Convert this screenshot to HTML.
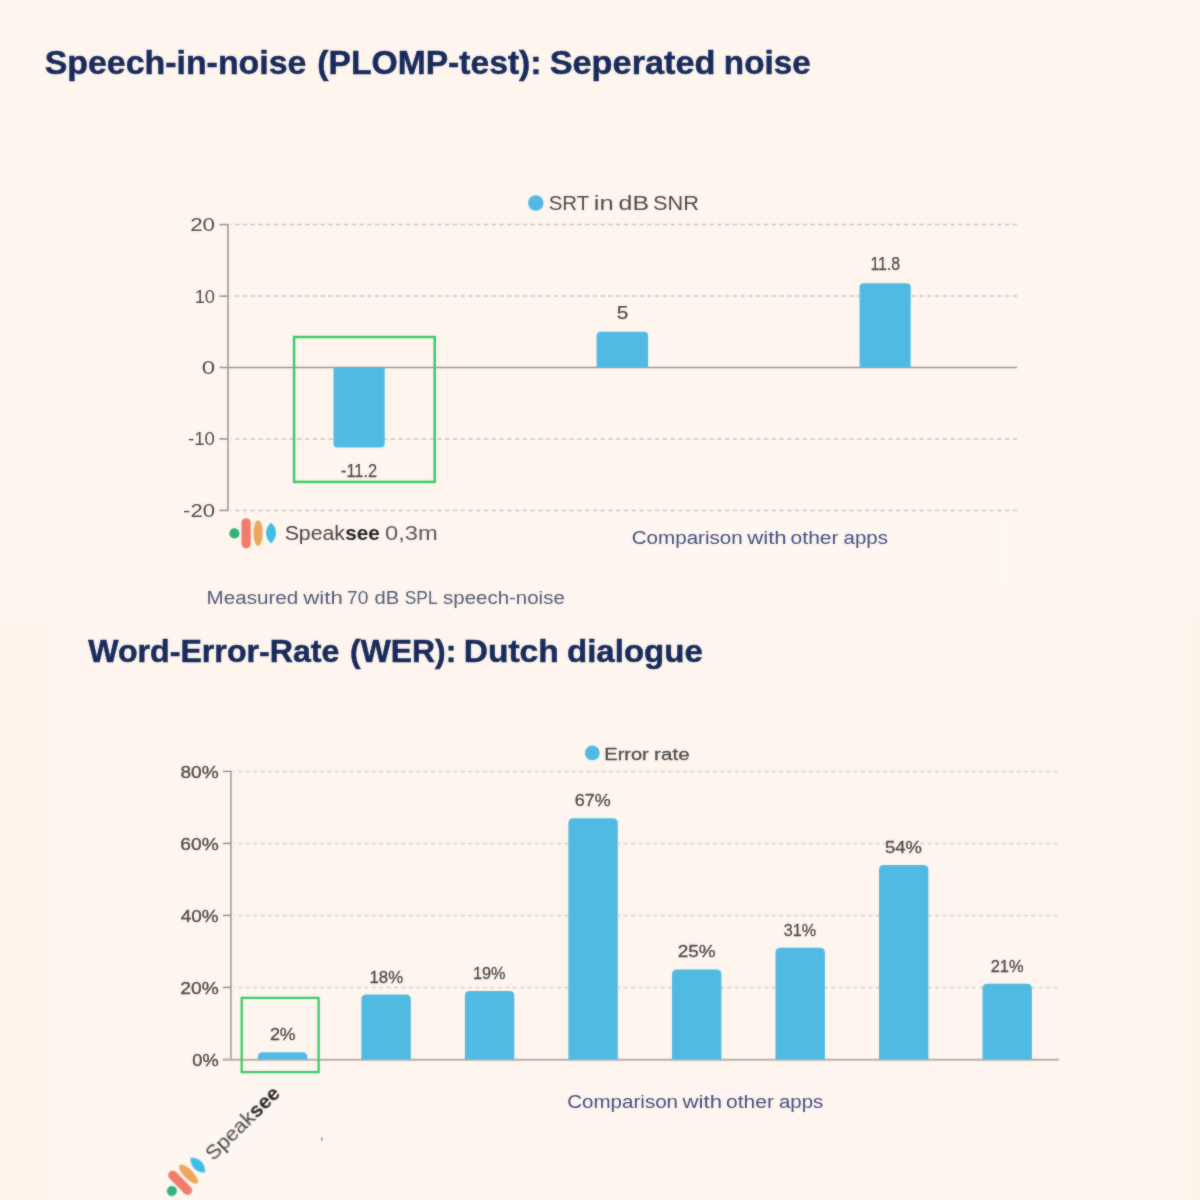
<!DOCTYPE html>
<html lang="en"><head><meta charset="utf-8"><title>Speaksee benchmark charts</title>
<style>
html,body{margin:0;padding:0;background:#fef5ef;}
body{width:1200px;height:1200px;overflow:hidden;}
svg{display:block;}
text{font-family:"Liberation Sans",sans-serif;}
</style></head><body>
<svg width="1200" height="1200" viewBox="0 0 1200 1200">
<rect width="1200" height="1200" fill="#fef5ef"/>
<defs><filter id="soft" color-interpolation-filters="sRGB" x="0" y="0" width="1200" height="1200" filterUnits="userSpaceOnUse"><feGaussianBlur in="SourceGraphic" stdDeviation="0.8" result="b"/><feComposite in="SourceGraphic" in2="b" operator="arithmetic" k1="0" k2="0.6" k3="0.4" k4="0"/></filter></defs>
<g filter="url(#soft)">
<rect x="0" y="617" width="42" height="583" fill="#fef4eb"/>
<rect x="1191" y="618" width="9" height="582" fill="#fef3e9"/>
<rect x="547.5" y="513" width="461.7" height="70.7" fill="#fef6f1"/>
<rect x="150" y="1071" width="161" height="129" fill="#fef6f0"/>
<rect x="311" y="1070" width="756.5" height="130" fill="#fef5f0"/>
<rect x="321" y="1137.5" width="1.4" height="3.4" fill="#6b5a4c" opacity="0.7"/>
<text y="74.4" font-size="33" font-weight="700" fill="#17295a" stroke="#17295a" stroke-width="0.5"><tspan x="44.68" textLength="261.76" lengthAdjust="spacingAndGlyphs">Speech-in-noise</tspan> <tspan x="317.32" textLength="224.21" lengthAdjust="spacingAndGlyphs">(PLOMP-test):</tspan> <tspan x="549.67" textLength="165.88" lengthAdjust="spacingAndGlyphs">Seperated</tspan> <tspan x="723.84" textLength="86.80" lengthAdjust="spacingAndGlyphs">noise</tspan></text>
<line x1="1017.0" y1="224.6" x2="231.0" y2="224.6" stroke="#cbc4c0" stroke-width="1.5" stroke-dasharray="4.2 3.577"/>
<line x1="1017.0" y1="296.1" x2="231.0" y2="296.1" stroke="#cbc4c0" stroke-width="1.5" stroke-dasharray="4.2 3.577"/>
<line x1="1017.0" y1="438.9" x2="231.0" y2="438.9" stroke="#cbc4c0" stroke-width="1.5" stroke-dasharray="4.2 3.577"/>
<line x1="1017.0" y1="510.4" x2="231.0" y2="510.4" stroke="#cbc4c0" stroke-width="1.5" stroke-dasharray="4.2 3.577"/>
<line x1="228.0" y1="223.8" x2="228.0" y2="511.2" stroke="#9d9793" stroke-width="1.6"/>
<line x1="219.4" y1="224.6" x2="228.0" y2="224.6" stroke="#9d9793" stroke-width="1.6"/>
<line x1="219.4" y1="296.1" x2="228.0" y2="296.1" stroke="#9d9793" stroke-width="1.6"/>
<line x1="219.4" y1="367.5" x2="228.0" y2="367.5" stroke="#9d9793" stroke-width="1.6"/>
<line x1="219.4" y1="438.9" x2="228.0" y2="438.9" stroke="#9d9793" stroke-width="1.6"/>
<line x1="219.4" y1="510.4" x2="228.0" y2="510.4" stroke="#9d9793" stroke-width="1.6"/>
<line x1="228.0" y1="367.5" x2="1017.0" y2="367.5" stroke="#9d9793" stroke-width="1.6"/>
<text y="231.1" font-size="19.2" fill="#4b4b4b"><tspan x="190.18" textLength="24.91" lengthAdjust="spacingAndGlyphs">20</tspan></text>
<text y="302.6" font-size="19.2" fill="#4b4b4b"><tspan x="194.63" textLength="20.30" lengthAdjust="spacingAndGlyphs">10</tspan></text>
<text y="374.0" font-size="19.2" fill="#4b4b4b"><tspan x="201.74" textLength="13.39" lengthAdjust="spacingAndGlyphs">0</tspan></text>
<text y="445.4" font-size="19.2" fill="#4b4b4b"><tspan x="188.06" textLength="26.84" lengthAdjust="spacingAndGlyphs">-10</tspan></text>
<text y="516.9" font-size="19.2" fill="#4b4b4b"><tspan x="183.11" textLength="31.93" lengthAdjust="spacingAndGlyphs">-20</tspan></text>
<path d="M333.5 367.5V443.5Q333.5 447.5 337.5 447.5H380.7Q384.7 447.5 384.7 443.5V367.5Z" fill="#50bae2"/>
<path d="M596.6 367.5V335.8Q596.6 331.8 600.6 331.8H644.1Q648.1 331.8 648.1 335.8V367.5Z" fill="#50bae2"/>
<path d="M859.6 367.5V287.2Q859.6 283.2 863.6 283.2H906.7Q910.7 283.2 910.7 287.2V367.5Z" fill="#50bae2"/>
<text y="476.7" font-size="19.2" fill="#4b4b4b" stroke="#4b4b4b" stroke-width="0.25"><tspan x="340.96" textLength="36.16" lengthAdjust="spacingAndGlyphs">-11.2</tspan></text>
<text y="318.6" font-size="19.2" fill="#4b4b4b" stroke="#4b4b4b" stroke-width="0.25"><tspan x="616.67" textLength="11.59" lengthAdjust="spacingAndGlyphs">5</tspan></text>
<text y="270.0" font-size="19.2" fill="#4b4b4b" stroke="#4b4b4b" stroke-width="0.25"><tspan x="870.41" textLength="29.80" lengthAdjust="spacingAndGlyphs">11.8</tspan></text>
<rect x="294.1" y="337" width="140.6" height="144.9" fill="none" stroke="#39ca67" stroke-width="2.5"/>
<circle cx="535.8" cy="203" r="7.7" fill="#50bae2"/>
<text y="210.2" font-size="20.9" fill="#4b4b4b"><tspan x="548.69" textLength="40.21" lengthAdjust="spacingAndGlyphs">SRT</tspan> <tspan x="593.77" textLength="19.91" lengthAdjust="spacingAndGlyphs">in</tspan> <tspan x="618.54" textLength="30.48" lengthAdjust="spacingAndGlyphs">dB</tspan> <tspan x="653.02" textLength="45.99" lengthAdjust="spacingAndGlyphs">SNR</tspan></text>
<g transform="translate(234.4 533.4) rotate(0)">
<circle cx="0" cy="0" r="5.1" fill="#33b377"/>
<rect x="7.1" y="-15.2" width="9.2" height="30.2" rx="4.6" fill="#f27b6c"/>
<ellipse cx="23.7" cy="-0.4" rx="4.6" ry="12.7" fill="#eda65c"/>
<path d="M36.6 -10.8C43.3 -4.5 43.3 4 36.6 10C30 4 30 -4.5 36.6 -10.8Z" fill="#3dbde9"/>
<text y="6.5" font-size="20.5" fill="#454545"><tspan x="50.24" textLength="60.37" lengthAdjust="spacingAndGlyphs">Speak</tspan><tspan x="110.88" font-weight="700" fill="#222" textLength="34.52" lengthAdjust="spacingAndGlyphs">see</tspan> <tspan x="150.65" fill="#55585f" textLength="52.71" lengthAdjust="spacingAndGlyphs">0,3m</tspan></text>
</g>
<text y="543.5" font-size="18" fill="#434e7e"><tspan x="631.77" textLength="110.89" lengthAdjust="spacingAndGlyphs">Comparison</tspan> <tspan x="747.20" textLength="39.46" lengthAdjust="spacingAndGlyphs">with</tspan> <tspan x="790.61" textLength="47.90" lengthAdjust="spacingAndGlyphs">other</tspan> <tspan x="843.63" textLength="44.30" lengthAdjust="spacingAndGlyphs">apps</tspan></text>
<text y="604.1" font-size="18" fill="#525a76"><tspan x="206.60" textLength="91.73" lengthAdjust="spacingAndGlyphs">Measured</tspan> <tspan x="303.30" textLength="39.46" lengthAdjust="spacingAndGlyphs">with</tspan> <tspan x="346.99" textLength="21.37" lengthAdjust="spacingAndGlyphs">70</tspan> <tspan x="374.64" textLength="24.73" lengthAdjust="spacingAndGlyphs">dB</tspan> <tspan x="404.84" textLength="32.02" lengthAdjust="spacingAndGlyphs">SPL</tspan> <tspan x="443.04" textLength="121.75" lengthAdjust="spacingAndGlyphs">speech-noise</tspan></text>
<text y="661.7" font-size="30.5" font-weight="700" fill="#17295a" stroke="#17295a" stroke-width="0.5"><tspan x="88.22" textLength="251.15" lengthAdjust="spacingAndGlyphs">Word-Error-Rate</tspan> <tspan x="350.11" textLength="106.21" lengthAdjust="spacingAndGlyphs">(WER):</tspan> <tspan x="463.74" textLength="94.99" lengthAdjust="spacingAndGlyphs">Dutch</tspan> <tspan x="566.98" textLength="135.84" lengthAdjust="spacingAndGlyphs">dialogue</tspan></text>
<line x1="1057.5" y1="771.4" x2="233.8" y2="771.4" stroke="#d6d0cc" stroke-width="1.5" stroke-dasharray="4 3.41"/>
<line x1="1057.5" y1="843.4" x2="233.8" y2="843.4" stroke="#d6d0cc" stroke-width="1.5" stroke-dasharray="4 3.41"/>
<line x1="1057.5" y1="915.4" x2="233.8" y2="915.4" stroke="#d6d0cc" stroke-width="1.5" stroke-dasharray="4 3.41"/>
<line x1="1057.5" y1="987.4" x2="233.8" y2="987.4" stroke="#d6d0cc" stroke-width="1.5" stroke-dasharray="4 3.41"/>
<line x1="230.95000000000002" y1="770.6" x2="230.95000000000002" y2="1060.2" stroke="#8f8a86" stroke-width="1.35"/>
<line x1="222.8" y1="771.4" x2="230.8" y2="771.4" stroke="#8f8a86" stroke-width="1.35"/>
<line x1="222.8" y1="843.4" x2="230.8" y2="843.4" stroke="#8f8a86" stroke-width="1.35"/>
<line x1="222.8" y1="915.4" x2="230.8" y2="915.4" stroke="#8f8a86" stroke-width="1.35"/>
<line x1="222.8" y1="987.4" x2="230.8" y2="987.4" stroke="#8f8a86" stroke-width="1.35"/>
<line x1="222.8" y1="1059.4" x2="230.8" y2="1059.4" stroke="#8f8a86" stroke-width="1.35"/>
<line x1="222.8" y1="1059.8000000000002" x2="1059.0" y2="1059.8000000000002" stroke="#b7b0aa" stroke-width="2.1"/>
<text y="778.0" font-size="17.4" fill="#4b4b4b" stroke="#4b4b4b" stroke-width="0.35"><tspan x="180.49" textLength="38.21" lengthAdjust="spacingAndGlyphs">80%</tspan></text>
<text y="850.0" font-size="17.4" fill="#4b4b4b" stroke="#4b4b4b" stroke-width="0.35"><tspan x="180.34" textLength="38.36" lengthAdjust="spacingAndGlyphs">60%</tspan></text>
<text y="922.0" font-size="17.4" fill="#4b4b4b" stroke="#4b4b4b" stroke-width="0.35"><tspan x="180.87" textLength="37.82" lengthAdjust="spacingAndGlyphs">40%</tspan></text>
<text y="994.0" font-size="17.4" fill="#4b4b4b" stroke="#4b4b4b" stroke-width="0.35"><tspan x="180.34" textLength="38.36" lengthAdjust="spacingAndGlyphs">20%</tspan></text>
<text y="1066.0" font-size="17.4" fill="#4b4b4b" stroke="#4b4b4b" stroke-width="0.35"><tspan x="192.27" textLength="26.42" lengthAdjust="spacingAndGlyphs">0%</tspan></text>
<path d="M257.9 1059.4V1057.2Q257.9 1052.2 262.9 1052.2H302.3Q307.3 1052.2 307.3 1057.2V1059.4Z" fill="#50bae2"/>
<text y="1040.1" font-size="17.1" fill="#4b4b4b" stroke="#4b4b4b" stroke-width="0.3"><tspan x="269.91" textLength="25.77" lengthAdjust="spacingAndGlyphs">2%</tspan></text>
<path d="M361.4 1059.4V999.6Q361.4 994.6 366.4 994.6H405.8Q410.8 994.6 410.8 999.6V1059.4Z" fill="#50bae2"/>
<text y="982.5" font-size="17.1" fill="#4b4b4b" stroke="#4b4b4b" stroke-width="0.3"><tspan x="369.54" textLength="33.57" lengthAdjust="spacingAndGlyphs">18%</tspan></text>
<path d="M464.9 1059.4V996.0Q464.9 991.0 469.9 991.0H509.3Q514.3 991.0 514.3 996.0V1059.4Z" fill="#50bae2"/>
<text y="978.9" font-size="17.1" fill="#4b4b4b" stroke="#4b4b4b" stroke-width="0.3"><tspan x="472.98" textLength="32.62" lengthAdjust="spacingAndGlyphs">19%</tspan></text>
<path d="M568.4 1059.4V823.2Q568.4 818.2 573.4 818.2H612.8Q617.8 818.2 617.8 823.2V1059.4Z" fill="#50bae2"/>
<text y="806.1" font-size="17.1" fill="#4b4b4b" stroke="#4b4b4b" stroke-width="0.3"><tspan x="574.80" textLength="35.85" lengthAdjust="spacingAndGlyphs">67%</tspan></text>
<path d="M672.0 1059.4V974.4Q672.0 969.4 677.0 969.4H716.4Q721.4 969.4 721.4 974.4V1059.4Z" fill="#50bae2"/>
<text y="957.3" font-size="17.1" fill="#4b4b4b" stroke="#4b4b4b" stroke-width="0.3"><tspan x="677.80" textLength="37.89" lengthAdjust="spacingAndGlyphs">25%</tspan></text>
<path d="M775.5 1059.4V952.8Q775.5 947.8 780.5 947.8H819.9Q824.9 947.8 824.9 952.8V1059.4Z" fill="#50bae2"/>
<text y="935.7" font-size="17.1" fill="#4b4b4b" stroke="#4b4b4b" stroke-width="0.3"><tspan x="783.64" textLength="32.45" lengthAdjust="spacingAndGlyphs">31%</tspan></text>
<path d="M879.0 1059.4V870.0Q879.0 865.0 884.0 865.0H923.4Q928.4 865.0 928.4 870.0V1059.4Z" fill="#50bae2"/>
<text y="852.9" font-size="17.1" fill="#4b4b4b" stroke="#4b4b4b" stroke-width="0.3"><tspan x="885.01" textLength="36.91" lengthAdjust="spacingAndGlyphs">54%</tspan></text>
<path d="M982.5 1059.4V988.8Q982.5 983.8 987.5 983.8H1026.9Q1031.9 983.8 1031.9 988.8V1059.4Z" fill="#50bae2"/>
<text y="971.7" font-size="17.1" fill="#4b4b4b" stroke="#4b4b4b" stroke-width="0.3"><tspan x="990.68" textLength="32.92" lengthAdjust="spacingAndGlyphs">21%</tspan></text>
<rect x="241.7" y="997.9" width="76.9" height="74.2" fill="none" stroke="#39ca67" stroke-width="2.3"/>
<circle cx="592.3" cy="752.9" r="7.4" fill="#50bae2"/>
<text y="760.0" font-size="17.3" fill="#4b4b4b" stroke="#4b4b4b" stroke-width="0.3"><tspan x="604.35" textLength="44.44" lengthAdjust="spacingAndGlyphs">Error</tspan> <tspan x="654.11" textLength="35.48" lengthAdjust="spacingAndGlyphs">rate</tspan></text>
<text y="1108.0" font-size="18" fill="#434e7e"><tspan x="567.17" textLength="110.89" lengthAdjust="spacingAndGlyphs">Comparison</tspan> <tspan x="682.60" textLength="39.46" lengthAdjust="spacingAndGlyphs">with</tspan> <tspan x="726.01" textLength="47.90" lengthAdjust="spacingAndGlyphs">other</tspan> <tspan x="779.03" textLength="44.30" lengthAdjust="spacingAndGlyphs">apps</tspan></text>
<g transform="translate(171.9 1191) rotate(-44.5)">
<circle cx="0" cy="0" r="5.1" fill="#33b377"/>
<rect x="7.1" y="-15.2" width="9.2" height="30.2" rx="4.6" fill="#f27b6c"/>
<ellipse cx="23.7" cy="-0.4" rx="4.6" ry="12.7" fill="#eda65c"/>
<path d="M36.6 -10.8C43.3 -4.5 43.3 4 36.6 10C30 4 30 -4.5 36.6 -10.8Z" fill="#3dbde9"/>
<text y="7.8" font-size="20.5" fill="#454545"><tspan x="50.24" textLength="60.37" lengthAdjust="spacingAndGlyphs">Speak</tspan><tspan x="110.88" font-weight="700" fill="#222" textLength="34.52" lengthAdjust="spacingAndGlyphs">see</tspan></text>
</g>
</g>
</svg></body></html>
